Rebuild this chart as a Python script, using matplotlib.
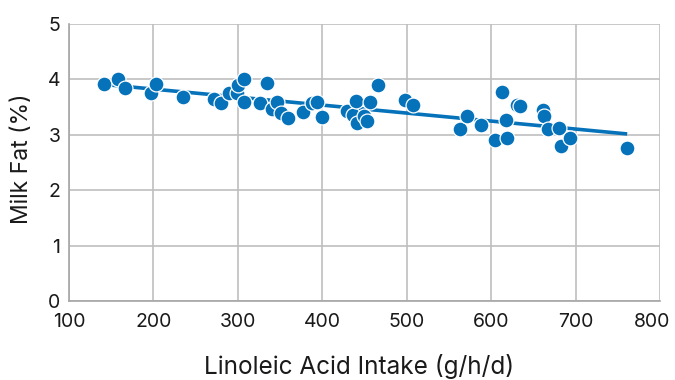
import numpy as np
import matplotlib
matplotlib.use("Agg")
import matplotlib.pyplot as plt
import matplotlib.transforms as mtransforms

plt.rcParams['font.family'] = ['Inter', 'DejaVu Sans']

linoleic = [142, 158, 166, 197, 203, 235, 272, 280, 289, 299, 300, 307, 307,
            326, 335, 341, 347, 351, 360, 377, 388, 394, 400, 429, 436, 440,
            441, 450, 453, 456, 466, 498, 507, 563, 571, 588, 604, 613, 617,
            619, 631, 634, 661, 663, 667, 680, 683, 693, 761]
milk_fat = [3.91, 4.00, 3.85, 3.75, 3.92, 3.68, 3.64, 3.57, 3.75, 3.75, 3.89,
            4.01, 3.59, 3.57, 3.93, 3.47, 3.60, 3.39, 3.31, 3.41, 3.58, 3.59,
            3.32, 3.42, 3.36, 3.61, 3.21, 3.33, 3.25, 3.59, 3.90, 3.62, 3.53,
            3.10, 3.33, 3.17, 2.91, 3.78, 3.27, 2.95, 3.54, 3.51, 3.44, 3.34,
            3.10, 3.12, 2.79, 2.94, 2.76]

x_ticks = [100, 200, 300, 400, 500, 600, 700, 800]
y_ticks = [0, 1, 2, 3, 4, 5]

blue = '#0572BA'

fig = plt.figure(figsize=(6.75, 3.8), dpi=100)
ax = fig.add_axes([0.102, 0.208, 0.876, 0.729])

x = np.array(linoleic, dtype=float)
y = np.array(milk_fat, dtype=float)
slope, intercept = np.polyfit(x, y, 1)
xl = np.array([x.min(), x.max()])
ax.plot(xl, slope * xl + intercept, color=blue, lw=2.6, zorder=2, solid_capstyle='butt')
ax.scatter(x, y, s=115, color=blue, edgecolors='white', linewidths=0.9, zorder=3)

ax.set_xlim(100, 800)
ax.set_ylim(0, 5)
ax.set_xticks(x_ticks)
ax.set_yticks(y_ticks)
ax.grid(True, color='#bfbfbf', lw=1.2)
ax.set_axisbelow(True)
for s in ['top', 'right']:
    ax.spines[s].set_visible(False)
for s in ['left', 'bottom']:
    ax.spines[s].set_color('#a6a6a6')
    ax.spines[s].set_linewidth(1.2)
ax.tick_params(length=0, labelsize=14, colors='#1a1a1a')
ax.tick_params(axis='x', pad=9)
ax.tick_params(axis='y', pad=6)

# keep the last x tick label inside the figure
last = ax.get_xticklabels()[-1]
last.set_transform(last.get_transform() +
                   mtransforms.ScaledTranslation(-8 / 100, 0, fig.dpi_scale_trans))

ax.set_xlabel('Linoleic Acid Intake (g/h/d)', fontsize=17.5, color='#1a1a1a', va='center')
ax.xaxis.set_label_coords(0.49, -0.238)
ax.set_ylabel('Milk Fat (%)', fontsize=16.5, color='#1a1a1a', va='center', ha='center')
ax.yaxis.set_label_coords(-0.08, 0.514)

fig.savefig('out.png', dpi=100)
